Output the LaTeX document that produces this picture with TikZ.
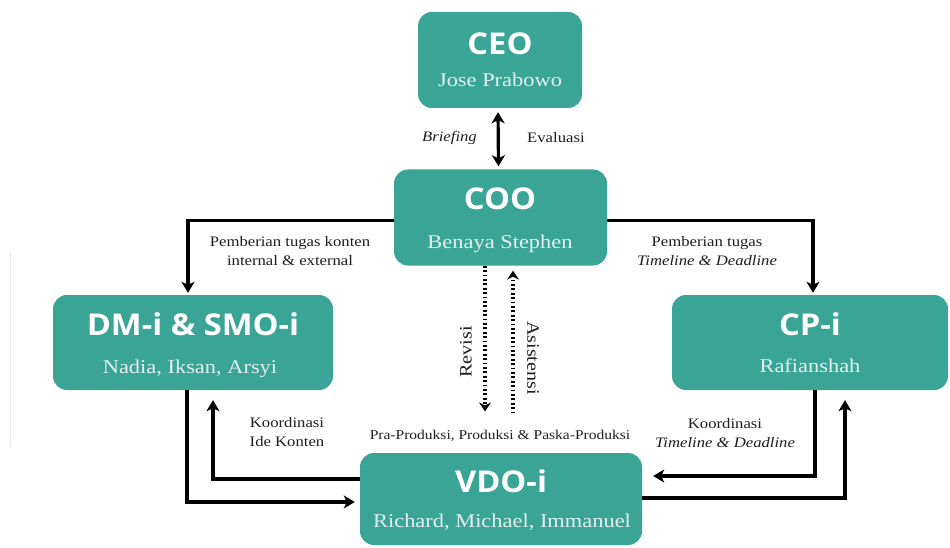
\documentclass[tikz,border=0pt]{standalone}
\usepackage{fontspec}
\setmainfont{Liberation Serif}
\newfontfamily\titlefont{Open Sans}
\usepackage{graphicx}
\usetikzlibrary{arrows.meta,calc}
\definecolor{tealbox}{HTML}{3AA596}
\definecolor{subcol}{HTML}{E2F0ED}
\definecolor{labcol}{HTML}{1E1E1E}
\newcommand\sx[1]{\scalebox{1.15}[1]{#1}}
\newcommand\tx[1]{\scalebox{1.09}[1]{#1}}
\begin{document}
\begin{tikzpicture}[x=1pt,y=-1pt,
  box/.style={fill=tealbox, rounded corners=14pt, inner sep=0pt},
  ttl/.style={text=white, font=\titlefont\bfseries\fontsize{30}{30}\selectfont, inner sep=0pt, anchor=base},
  sub/.style={text=subcol, font=\fontsize{19.5}{20}\selectfont, inner sep=0pt, anchor=base},
  lab/.style={text=labcol, font=\fontsize{14.5}{19}\selectfont, inner sep=0pt},
  arr/.style={line width=3.2pt, -{Stealth[length=11pt,width=13pt,inset=3pt]}},
  darr/.style={line width=3.2pt, {Stealth[length=11pt,width=13pt,inset=3pt]}-{Stealth[length=11pt,width=13pt,inset=3pt]}},
  dotarr/.style={line width=3.2pt, dash pattern=on 1.8pt off 2.6pt, -{Stealth[length=9pt,width=12pt,inset=3pt]}}
]
\useasboundingbox (0,0) rectangle (950,548);
\fill[white] (0,0) rectangle (950,548);
\draw[color=blue!10, line width=1pt] (10,253) -- (10,447);

% boxes
\node[box, minimum width=164pt, minimum height=96pt] (ceo) at (500,60) {};
\node[box, minimum width=213pt, minimum height=96pt] (coo) at (500.5,217.5) {};
\node[box, minimum width=280pt, minimum height=95pt] (dm) at (193,342.5) {};
\node[box, minimum width=276pt, minimum height=95pt] (cp) at (810,342.5) {};
\node[box, minimum width=282pt, minimum height=92pt] (vdo) at (501,499) {};

% box texts
\node[ttl] (ceot) at (500,55) {\tx{CEO}};
\node[sub] (ceos) at (500,87) {\sx{Jose Prabowo}};
\node[ttl] (coot) at (500,210) {\tx{COO}};
\node[sub] (coos) at (500,248) {\sx{Benaya Stephen}};
\node[ttl] (dmt) at (193,335) {\tx{DM-i \& SMO-i}};
\node[sub] (dms) at (190,373) {\sx{Nadia, Iksan, Arsyi}};
\node[ttl] (cpt) at (810,335) {\tx{CP-i}};
\node[sub] (cps) at (810,372) {\sx{Rafianshah}};
\node[ttl] (vdot) at (501,492) {\tx{VDO-i}};
\node[sub] (vdos) at (502,527) {\sx{Richard, Michael, Immanuel}};

% labels
\node[lab, anchor=east] (brief) at (477,138) {\sx{\textit{Briefing}}};
\node[lab, anchor=west] (eval) at (527,138) {\sx{Evaluasi}};
\node[lab] (ltask) at (290,252) {\sx{\begin{tabular}{@{}c@{}}Pemberian tugas konten\\internal \& external\end{tabular}}};
\node[lab] (rtask) at (707,252) {\sx{\begin{tabular}{@{}c@{}}Pemberian tugas\\\textit{Timeline \& Deadline}\end{tabular}}};
\node[lab] (lkoor) at (287,433) {\sx{\begin{tabular}{@{}c@{}}Koordinasi\\Ide Konten\end{tabular}}};
\node[lab] (rkoor) at (725,434) {\sx{\begin{tabular}{@{}c@{}}Koordinasi\\\textit{Timeline \& Deadline}\end{tabular}}};
\node[lab, font=\fontsize{13.5}{16}\selectfont, anchor=base] (pra) at (500,439) {\sx{Pra-Produksi, Produksi \& Paska-Produksi}};
\node[lab, font=\fontsize{17.5}{18}\selectfont, rotate=90] (rev) at (466,352) {\sx{Revisi}};
\node[lab, font=\fontsize{17.5}{18}\selectfont, rotate=-90] (asis) at (533,358) {\sx{Asistensi}};

% connectors
\draw[darr] ([xshift=-2pt,yshift=-4pt]ceo.south) -- ([xshift=-2pt,yshift=3pt]coo.north);
\draw[arr] ([yshift=-3pt]coo.west) -| ([xshift=-5pt,yshift=2pt]dm.north);
\draw[arr] ([yshift=-3pt]coo.east) -| ([xshift=3pt,yshift=2pt]cp.north);
\coordinate (revtop) at ([xshift=-15.5pt]coo.south);
\coordinate (revbot) at ($(revtop |- pra.north)+(0,-18)$);
\coordinate (asitop) at ([xshift=12.5pt,yshift=-5pt]coo.south);
\coordinate (asibot) at ($(asitop |- pra.north)+(0,-16)$);
\draw[dotarr] (revtop) -- (revbot);
\draw[dotarr] (asibot) -- (asitop);
\draw[arr] ([xshift=-6pt]dm.south) |- ([xshift=-5pt,yshift=-3pt]vdo.west);
\draw[arr] ([yshift=20pt]vdo.west) -| ([xshift=20pt,yshift=-10pt]dm.south);
\draw[arr] ([xshift=5pt]cp.south) |- ([xshift=11pt,yshift=23pt]vdo.east);
\draw[arr] ([yshift=1pt]vdo.east) -| ([xshift=35pt,yshift=-10pt]cp.south);
\end{tikzpicture}
\end{document}
